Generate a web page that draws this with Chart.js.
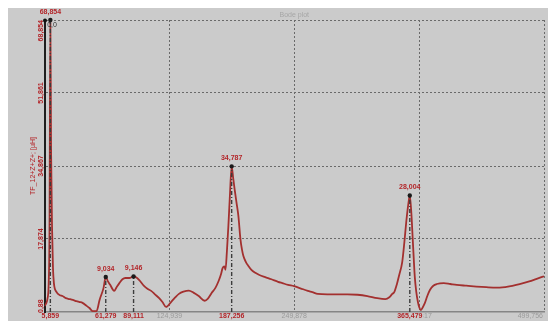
<!DOCTYPE html>
<html>
<head>
<meta charset="utf-8">
<script src="https://cdn.jsdelivr.net/npm/chart.js@4/dist/chart.umd.min.js"></script>
<style>
  html, body { margin: 0; padding: 0; background: #fff; overflow: hidden; }
  #wrap { width: 548px; height: 321px; position: relative; }
</style>
</head>
<body>
<div id="wrap"><canvas id="c"></canvas></div>
<script>
// Frequency sweep (kHz) and measured inductance (µH)
const freqKHz = [
  0, 1.5, 3, 4.2, 5.0, 5.859, 6.6, 7.6, 8.5, 9.4,
  12.1, 15.4, 18, 21.3, 25, 28.3, 32, 35.2, 38, 42.2,
  45, 48.1, 52.1, 55.1, 59.1, 61.279, 63.5, 65.7, 69.7, 72,
  74.9, 78, 80.9, 84.9, 89.111, 92, 94.8, 99.8, 103, 106.7,
  110.5, 114.7, 118, 121.6, 126.6, 130.5, 134.5, 139, 144.4, 149,
  154.3, 160.3, 163.5, 167.2, 171, 174.2, 176.5, 178.2, 180, 181.1,
  182.5, 184, 185.5, 187.256, 188.8, 190.2, 192, 194.0, 196.0, 197.5,
  199.0, 201.5, 204.0, 207, 210.9, 215, 220.8, 227, 233.7, 238,
  243.7, 249.6, 256, 263.5, 268, 273.4, 283, 293.3, 303, 313.2,
  323, 333.0, 341.0, 345, 348.0, 349.9, 352.5, 354.9, 357.9, 360,
  362, 364, 365.479, 367, 368.5, 370.5, 372, 373.6, 375.2, 376.6,
  378.5, 380.6, 383, 385.6, 389, 392.5, 399.5, 406, 412.4, 422,
  432.2, 442, 452.1, 458, 465.0, 472, 478.9, 485, 491.8, 499.756
];
const inductance = [
  2.3, 2.8, 4.0, 7.5, 20, 68.854, 38, 20, 11, 7.6,
  5.5, 4.8, 4.6, 4.1, 3.9, 3.7, 3.4, 3.2, 3.0, 2.3,
  1.8, 1.1, 1.1, 3.7, 6.5, 9.034, 8.0, 7.2, 5.8, 6.6,
  7.6, 8.5, 8.8, 8.8, 9.146, 8.9, 8.3, 6.9, 6.3, 5.8,
  5.0, 4.1, 3.2, 2.05, 3.2, 4.2, 5.1, 5.6, 5.85, 5.4,
  4.6, 3.5, 4.0, 5.3, 6.5, 8.1, 9.6, 11.1, 11.5, 10.7,
  15, 21, 28, 34.787, 32, 29.5, 26.5, 23.2, 17.9, 15.5,
  13.9, 12.5, 11.6, 10.7, 10.0, 9.5, 9.0, 8.5, 7.9, 7.6,
  7.2, 6.9, 6.4, 5.8, 5.5, 5.1, 5.0, 5.0, 5.0, 4.9,
  4.6, 4.1, 3.9, 4.3, 5.1, 5.5, 7.3, 9.5, 12.5, 17,
  22, 26, 28.004, 24, 17.5, 9, 5.5, 3.2, 1.8, 1.35,
  2.0, 3.0, 4.6, 6.0, 7.0, 7.4, 7.6, 7.4, 7.2, 7.0,
  6.8, 6.65, 6.55, 6.6, 6.85, 7.2, 7.6, 8.0, 8.55, 9.2
];

// Marked resonance peaks
const peakFreq  = [5.859, 61.279, 89.111, 187.256, 365.479];
const peakValue = [68.854, 9.034, 9.146, 34.787, 28.004];

// Axis ticks
const gridFreq = [124.939, 249.878, 374.817, 499.756];
const gridFreqLabels = ['124,939', '249,878', '374,817', '499,756'];
const levelTicks = [0.88, 17.874, 34.867, 51.861, 68.854];
const levelLabels = ['0,88', '17,874', '34,867', '51,861', '68,854'];

const plotTitle = 'Bode plot';
const axisTitle = 'TF_12+Z+Z+; [µH]';
const cursorLabel = '0,0';

const RED = '#b3262a';
const CURVE = '#a3302f';
const FONT = 'Liberation Sans, Arial, sans-serif';

const fmt = v => v.toFixed(3).replace('.', ',');

const curvePoints = freqKHz.map((f, i) => ({ x: f, y: inductance[i] }));
const peakPoints = peakFreq.map((f, i) => ({ x: f, y: peakValue[i] }));
const dropLines = peakFreq.map((f, i) => ({
  data: [{ x: f, y: levelTicks[0] }, { x: f, y: peakValue[i] }],
  borderColor: '#3c3c3c',
  borderWidth: 1.4,
  borderDash: [4, 2, 1, 2],
  pointRadius: 0,
  order: 2
}));

const panel = {
  id: 'panel',
  beforeDraw(chart) {
    const { ctx, width, height } = chart;
    ctx.save();
    ctx.fillStyle = '#ffffff';
    ctx.fillRect(0, 0, width, height);
    ctx.fillStyle = '#cbcbcb';
    ctx.fillRect(8, 8, width - 8, height - 8);
    ctx.restore();
  },
  afterDraw(chart) {
    const { ctx, chartArea: a, scales: { x, y } } = chart;
    ctx.save();
    ctx.textBaseline = 'middle';

    // title
    ctx.font = '7px ' + FONT;
    ctx.fillStyle = '#a6a6a6';
    ctx.textAlign = 'center';
    ctx.fillText(plotTitle, (a.left + a.right) / 2, 15);

    ctx.font = 'bold 7px ' + FONT;

    // y tick labels (rotated)
    ctx.fillStyle = RED;
    levelTicks.forEach((v, i) => {
      const w = ctx.measureText(levelLabels[i]).width;
      let cy = y.getPixelForValue(v);
      cy = Math.min(Math.max(cy, a.top + w / 2), a.bottom - w / 2 + 1);
      ctx.save();
      ctx.translate(41, cy);
      ctx.rotate(-Math.PI / 2);
      ctx.fillText(levelLabels[i], 0, 0);
      ctx.restore();
    });

    // y axis title
    ctx.font = '7px ' + FONT;
    ctx.save();
    ctx.translate(33, (a.top + a.bottom) / 2);
    ctx.rotate(-Math.PI / 2);
    ctx.fillText(axisTitle, 0, 0);
    ctx.restore();

    // x grid tick labels
    ctx.fillStyle = '#9a9a9a';
    gridFreq.forEach((v, i) => {
      const px = x.getPixelForValue(v);
      if (i === gridFreq.length - 1) {
        ctx.textAlign = 'right';
        ctx.fillText(gridFreqLabels[i], a.right - 1, 316.5);
      } else {
        ctx.textAlign = 'center';
        ctx.fillText(gridFreqLabels[i], px, 316.5);
      }
    });

    // x peak labels with backdrop
    ctx.font = 'bold 7px ' + FONT;
    ctx.textAlign = 'center';
    peakFreq.forEach(f => {
      const px = x.getPixelForValue(f);
      const t = fmt(f);
      const w = ctx.measureText(t).width;
      ctx.fillStyle = '#cbcbcb';
      ctx.fillRect(px - w / 2 - 1, 313, w + 2, 8);
      ctx.fillStyle = RED;
      ctx.fillText(t, px, 316.5);
    });

    // peak value labels
    peakFreq.forEach((f, i) => {
      const px = x.getPixelForValue(f);
      const py = y.getPixelForValue(peakValue[i]);
      ctx.fillStyle = RED;
      ctx.fillText(fmt(peakValue[i]), px, py - 8);
    });

    // cursor at the origin
    ctx.fillStyle = '#111';
    ctx.beginPath();
    ctx.arc(a.left + 0.5, a.top + 0.5, 2, 0, Math.PI * 2);
    ctx.fill();
    ctx.font = '7px ' + FONT;
    ctx.fillStyle = '#333';
    ctx.fillText(cursorLabel, a.left + 7.5, a.top + 5);
    ctx.restore();
  }
};

new Chart(document.getElementById('c'), {
  type: 'line',
  data: {
    datasets: [
      {
        data: curvePoints,
        borderColor: CURVE,
        borderWidth: 1.8,
        pointRadius: 0,
        cubicInterpolationMode: 'monotone',
        order: 3
      },
      ...dropLines,
      {
        data: peakPoints,
        showLine: false,
        pointRadius: 2.2,
        pointBackgroundColor: '#1a1a1a',
        pointBorderColor: '#1a1a1a',
        pointBorderWidth: 0,
        clip: false,
        order: 1
      }
    ]
  },
  options: {
    responsive: true,
    maintainAspectRatio: false,
    animation: false,
    events: [],
    layout: { padding: { top: 20, left: 0, right: 0, bottom: 0 } },
    plugins: { legend: { display: false }, tooltip: { enabled: false } },
    scales: {
      x: {
        type: 'linear',
        min: 0,
        max: 499.756,
        afterFit: s => { s.height = 9; },
        afterBuildTicks: s => { s.ticks = gridFreq.map(v => ({ value: v })); },
        ticks: { display: false },
        grid: { color: '#6a6a6a', lineWidth: 1, drawTicks: false },
        border: { color: '#858585', width: 1.5, dash: [2, 2] }
      },
      y: {
        type: 'linear',
        min: 0.88,
        max: 68.854,
        afterFit: s => { s.width = 44.5; },
        afterBuildTicks: s => { s.ticks = levelTicks.map(v => ({ value: v })); },
        ticks: { display: false },
        grid: {
          color: ctx => ctx.index === 0 ? 'rgba(0,0,0,0)' : '#6a6a6a',
          lineWidth: 1,
          drawTicks: false
        },
        border: { color: '#1e1e1e', width: 2, dash: [2, 2] }
      }
    }
  },
  plugins: [panel]
});
</script>
</body>
</html>
